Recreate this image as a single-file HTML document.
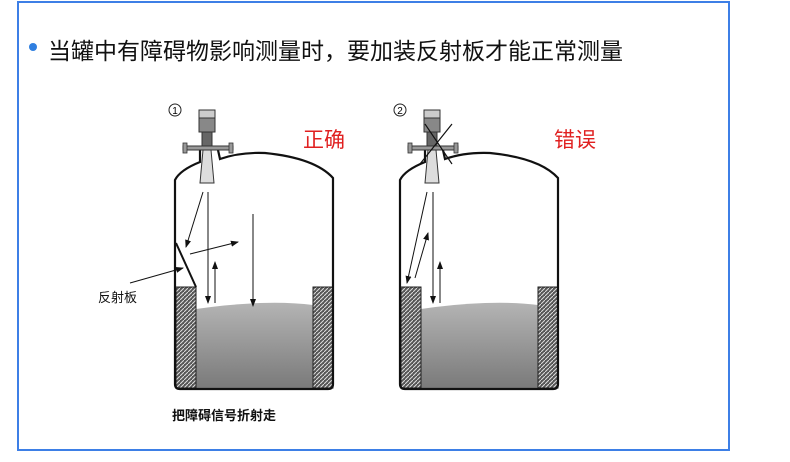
<!DOCTYPE html><html><head><meta charset="utf-8"><style>
body{margin:0;width:790px;height:462px;background:#fff;overflow:hidden;position:relative;font-family:"Liberation Sans","Noto Sans CJK SC",sans-serif}
.box{position:absolute;left:17px;top:1px;width:709px;height:446px;border:2px solid #3d7fe6}
.t{position:absolute;white-space:nowrap}
</style></head><body>
<div class="box"></div>
<div class="t" style="left:29px;top:43px;width:8px;height:8px;border-radius:50%;background:#2f7fe0"></div>
<div class="t" style="left:48px;top:32px;font-size:23px;color:#111">当罐中有障碍物影响测量时，要加装反射板才能正常测量</div>
<div class="t" style="left:303px;top:124px;font-size:21px;color:#e02020">正确</div>
<div class="t" style="left:554px;top:124px;font-size:21px;color:#e02020">错误</div>
<div class="t" style="left:98px;top:287px;font-size:13px;color:#111">反射板</div>
<div class="t" style="left:172px;top:405px;font-size:13px;font-weight:bold;color:#111">把障碍信号折射走</div>
<svg width="790" height="462" style="position:absolute;left:0;top:0">
<defs>
<pattern id="h" width="4" height="4" patternUnits="userSpaceOnUse"><rect width="4" height="4" fill="#555"/><path d="M0 4L4 0" stroke="#ddd" stroke-width="1"/></pattern>
<linearGradient id="g" x1="0" y1="0" x2="0" y2="1"><stop offset="0" stop-color="#b4b4b4"/><stop offset="1" stop-color="#7a7a7a"/></linearGradient>
<marker id="a" markerWidth="8" markerHeight="8" refX="7" refY="4" orient="auto" markerUnits="userSpaceOnUse"><path d="M0 1L8 4L0 7z" fill="#111"/></marker>
</defs>
<g id="tank">
<path d="M196 309 Q230 304 260 303 T313 305 L313 388 L196 388Z" fill="url(#g)"/>
<rect x="176" y="287" width="20" height="101" fill="url(#h)" stroke="#222" stroke-width="1"/>
<rect x="313" y="287" width="20" height="101" fill="url(#h)" stroke="#222" stroke-width="1"/>
<path d="M200 150 L200 162 Q180 170 175 180 L175 384 Q175 389 180 389 L328 389 Q333 389 333 384 L333 178 Q315 158 265 153 Q240 152 220 159 L218 150" fill="none" stroke="#111" stroke-width="2.2"/>
<rect x="183" y="146" width="50" height="4" fill="#999" stroke="#333" stroke-width="1"/>
<rect x="183" y="143" width="4" height="10" fill="#999" stroke="#333" stroke-width=".8"/>
<rect x="229" y="143" width="4" height="10" fill="#999" stroke="#333" stroke-width=".8"/>
<rect x="199" y="110" width="16" height="8" fill="#ccc" stroke="#333"/>
<rect x="199" y="118" width="16" height="14" fill="#888" stroke="#333"/>
<rect x="202" y="132" width="10" height="14" fill="#666" stroke="#333"/>
<path d="M203 150 L211 150 L214 183 L200 183Z" fill="#ddd" stroke="#333"/>
<path d="M208 192 L208 303" stroke="#111" marker-end="url(#a)"/>
<path d="M215 303 L215 262" stroke="#111" marker-end="url(#a)"/>
</g>
<use href="#tank" x="225"/>
<path d="M176 243 L196 287" stroke="#111" stroke-width="2"/>
<path d="M203 192 L186 247" stroke="#111" marker-end="url(#a)"/>
<path d="M190 254 L238 242" stroke="#111" marker-end="url(#a)"/>
<path d="M253 214 L253 306" stroke="#111" marker-end="url(#a)"/>
<path d="M130 283 L183 268" stroke="#111" marker-end="url(#a)"/>
<path d="M427 192 L407 283" stroke="#111" marker-end="url(#a)"/>
<path d="M415 278 L428 233" stroke="#111" marker-end="url(#a)"/>
<path d="M425 124 L452 164 M452 124 L420 164" stroke="#111" stroke-width="1.2"/>
<circle cx="175" cy="110" r="6" fill="none" stroke="#222"/><text x="175" y="114" font-size="10" text-anchor="middle" font-family="Liberation Sans">1</text>
<circle cx="400" cy="110" r="6" fill="none" stroke="#222"/><text x="400" y="114" font-size="10" text-anchor="middle" font-family="Liberation Sans">2</text>
</svg>
</body></html>
